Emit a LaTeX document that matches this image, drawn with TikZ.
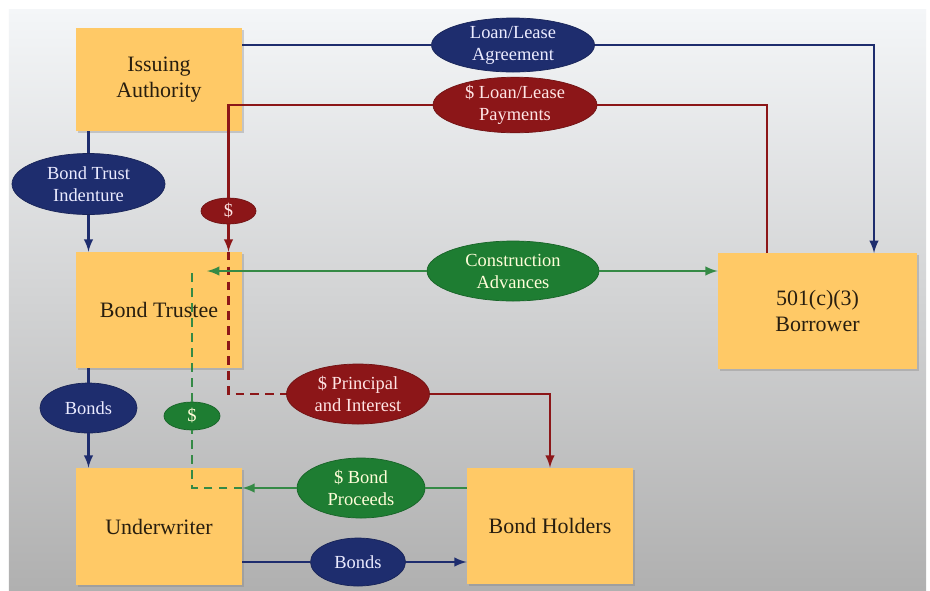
\documentclass[tikz,border=0pt]{standalone}
\usepackage{fontspec}
\setmainfont{Liberation Serif}
\usepackage{xcolor}
\usepackage{tikz}
\usetikzlibrary{positioning,shapes,arrows,calc,shadows}

\definecolor{boxfill}{RGB}{255,201,102}
\definecolor{navy}{RGB}{30,45,110}
\definecolor{darkred}{RGB}{140,22,24}
\definecolor{darkgreen}{RGB}{30,125,50}
\definecolor{bgtop}{RGB}{244,246,248}
\definecolor{bgmid}{RGB}{214,214,216}
\definecolor{bgbot}{RGB}{176,176,176}
\definecolor{inktext}{RGB}{40,30,15}

\begin{document}
\begin{tikzpicture}[
    party/.style={rectangle, fill=boxfill, minimum width=3.32cm, minimum height=2.32cm,
        align=center, text=inktext, font=\fontsize{12.5}{15}\selectfont,
        drop shadow={shadow xshift=1.2pt, shadow yshift=-1.2pt, opacity=0.35}},
    tag/.style={ellipse, inner sep=0pt, align=center, font=\fontsize{10.5}{12.5}\selectfont},
    bluetag/.style={tag, fill=navy, draw=navy!80!black, text=blue!8!white},
    redtag/.style={tag, fill=darkred, draw=darkred!80!black, text=red!10!white},
    greentag/.style={tag, fill=darkgreen, draw=darkgreen!80!black, text=yellow!15!white},
    blueline/.style={navy, line width=1.4pt},
    redline/.style={darkred, line width=1.4pt},
    greenline/.style={darkgreen!90!white, line width=1.4pt},
    cashdash/.style={dash pattern=on 5pt off 3.5pt}
]
% Page and background
\useasboundingbox (0,0) rectangle (18.6,-11.8);
\fill[white] (0,0) rectangle (18.6,-11.8);
\shade[top color=bgtop, middle color=bgmid, bottom color=bgbot] (0.18,-0.18) rectangle (18.52,-11.8);

% Parties
\node[party, minimum height=2.06cm] (issuer) at (3.18,-1.59) {Issuing\\Authority};
\node[party] (trustee) at (3.18,-6.20) {Bond Trustee};
\node[party, minimum height=2.34cm] (underwriter) at (3.18,-10.53) {Underwriter};
\node[party] (holders) at (11.0,-10.52) {Bond Holders};
\node[party, minimum width=3.98cm] (borrower) at (16.35,-6.22) {501(c)(3)\\Borrower};

% Labels on the flows
\node[bluetag, minimum width=3.26cm, minimum height=1.08cm] (agreement) at (10.26,-0.90) {Loan/Lease\\Agreement};
\node[redtag, minimum width=3.28cm, minimum height=1.04cm] (payments) at (10.30,-2.10) {\$ Loan/Lease\\Payments};
\node[greentag, minimum width=3.44cm, minimum height=1.2cm] (advances) at (10.26,-5.42) {Construction\\Advances};
\node[bluetag, minimum width=3.06cm, minimum height=1.22cm] (indenture) at (1.77,-3.68) {Bond Trust\\Indenture};
\node[redtag, minimum width=1.1cm, minimum height=0.52cm] (cashtop) at (4.57,-4.22) {\$};
\node[bluetag, minimum width=1.94cm, minimum height=1.0cm] (bondsup) at (1.77,-8.16) {Bonds};
\node[greentag, minimum width=1.12cm, minimum height=0.56cm] (cashmid) at (3.84,-8.32) {\$};
\node[redtag, minimum width=2.86cm, minimum height=1.2cm] (principal) at (7.16,-7.88) {\$ Principal\\and Interest};
\node[greentag, minimum width=2.56cm, minimum height=1.2cm] (proceeds) at (7.22,-9.76) {\$ Bond\\Proceeds};
\node[bluetag, minimum width=1.9cm, minimum height=0.96cm] (bondsdown) at (7.16,-11.24) {Bonds};

% Turning points
\coordinate (agreeturn) at (17.48,-5.06);
\coordinate (payturn) at (15.34,-5.06);
\coordinate (advin) at (4.14,-5.42);

% Loan/lease agreement
\draw[blueline] (issuer.east |- agreement) -- (agreement.west);
\draw[blueline, -latex] (agreement.east) -| (agreeturn);

% Loan/lease payments back to the trustee
\draw[redline] (payturn) |- (payments.east);
\draw[redline] (payments.west) -| (cashtop.north);
\draw[redline, -latex] (cashtop.south) -- (cashtop |- trustee.north);
\draw[redline, cashdash] (cashtop |- trustee.north) |- (principal.west);
\draw[redline, -latex] (principal.east) -| (holders.north);

% Indenture and bonds
\draw[blueline] (indenture |- issuer.south) -- (indenture.north);
\draw[blueline, -latex] (indenture.south) -- (indenture |- trustee.north);
\draw[blueline] (bondsup |- trustee.south) -- (bondsup.north);
\draw[blueline, -latex] (bondsup.south) -- (bondsup |- underwriter.north);
\draw[blueline] (underwriter.east |- bondsdown) -- (bondsdown.west);
\draw[blueline, -latex] (bondsdown.east) -- (holders.west |- bondsdown);

% Construction advances
\draw[greenline, latex-] (advin) -- (advances.west);
\draw[greenline, -latex] (advances.east) -- (borrower.west |- advances);

% Bond proceeds
\draw[greenline] (holders.west |- proceeds) -- (proceeds.east);
\draw[greenline, -latex] (proceeds.west) -- (underwriter.east |- proceeds);
\draw[greenline, cashdash] (underwriter.east |- proceeds) -| (cashmid.south);
\draw[greenline, cashdash] (cashmid.north) -- (cashmid |- advin);

\end{tikzpicture}
\end{document}
